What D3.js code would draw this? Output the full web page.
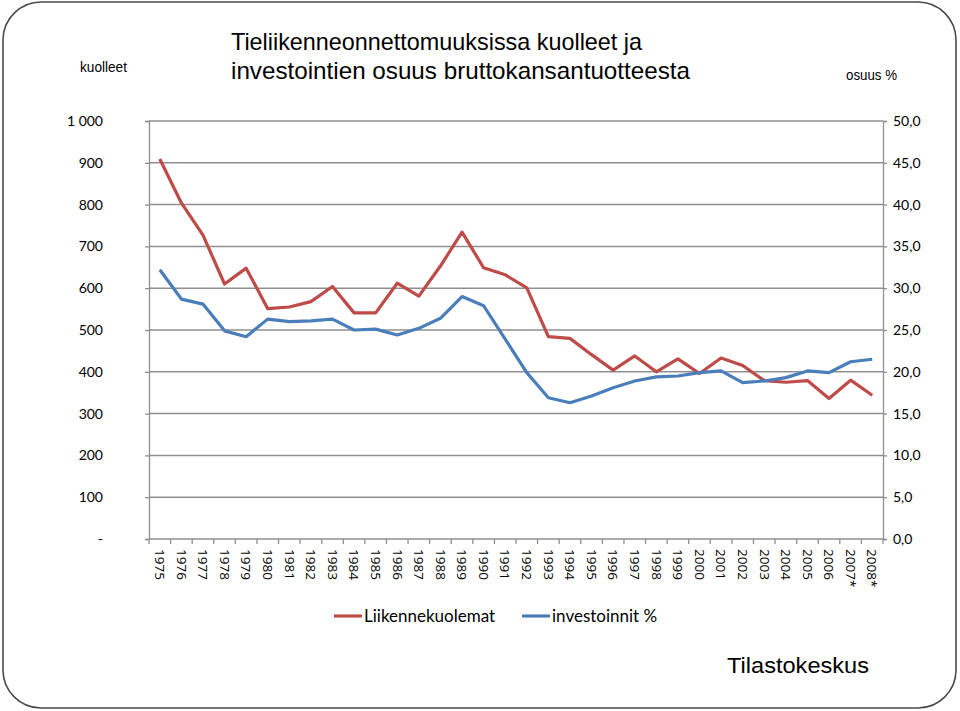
<!DOCTYPE html>
<html><head><meta charset="utf-8">
<script src="https://cdn.jsdelivr.net/npm/d3@7"></script>
<style>body{margin:0;background:#fff}svg{display:block}</style>
</head><body>
<script>
const years = ["1975","1976","1977","1978","1979","1980","1981","1982","1983","1984","1985","1986","1987","1988","1989","1990","1991","1992","1993","1994","1995","1996","1997","1998","1999","2000","2001","2002","2003","2004","2005","2006","2007*","2008*"];
const deaths = [909,804,727,610,648,551,555,568,604,541,541,612,581,653,734,649,632,601,484,480,441,404,438,400,431,396,433,415,379,375,379,336,380,344];
const invest = [32.2,28.7,28.1,24.9,24.2,26.3,26.0,26.1,26.3,25.0,25.1,24.4,25.2,26.4,29.0,27.9,23.9,19.9,16.9,16.3,17.1,18.1,18.9,19.4,19.5,19.9,20.1,18.7,18.9,19.3,20.1,19.9,21.2,21.5];
const leftTicks = [0,100,200,300,400,500,600,700,800,900,1000];
const leftTickLabels = ["-","100","200","300","400","500","600","700","800","900","1 000"];
const rightTicks = [0,5,10,15,20,25,30,35,40,45,50];
const rightTickLabels = ["0,0","5,0","10,0","15,0","20,0","25,0","30,0","35,0","40,0","45,0","50,0"];
const seriesNames = ["Liikennekuolemat","investoinnit %"];

const W=960,H=711;
const svg=d3.select("body").append("svg").attr("width",W).attr("height",H);
svg.append("rect").attr("x",3).attr("y",2).attr("width",953).attr("height",706).attr("rx",38).attr("ry",38)
  .attr("fill","#fff").attr("stroke","#4a4a4a").attr("stroke-width",1.6);

const L=149,R=883,T=121,B=539;
const x=d3.scaleBand().domain(years).range([L,R]);
const yL=d3.scaleLinear().domain([0,1000]).range([B,T]);
const yR=d3.scaleLinear().domain([0,50]).range([B,T]);
const grid="#8f8f8f";

// gridlines
svg.append("g").selectAll("line").data(leftTicks.filter(d=>d>0)).join("line")
  .attr("x1",L).attr("x2",R).attr("y1",d=>yL(d)).attr("y2",d=>yL(d))
  .attr("stroke",grid).attr("stroke-width",1.5);

// left axis
const gL=svg.append("g").attr("transform",`translate(${L},0)`)
  .call(d3.axisLeft(yL).tickValues(leftTicks).tickFormat((d,i)=>leftTickLabels[i]).tickSize(4).tickPadding(42));
gL.selectAll("path,line").attr("stroke",grid).attr("stroke-width",1.3);
gL.selectAll("text").attr("font-family","Lato, 'Open Sans', sans-serif").attr("font-size",14).attr("fill","#000");

// right axis
const gR=svg.append("g").attr("transform",`translate(${R},0)`)
  .call(d3.axisRight(yR).tickValues(rightTicks).tickFormat((d,i)=>rightTickLabels[i]).tickSize(4).tickPadding(6));
gR.selectAll("path,line").attr("stroke",grid).attr("stroke-width",1.3);
gR.selectAll("text").attr("font-family","Lato, 'Open Sans', sans-serif").attr("font-size",14).attr("fill","#000");

// bottom axis
svg.append("line").attr("x1",L).attr("x2",R).attr("y1",B).attr("y2",B).attr("stroke",grid).attr("stroke-width",1.3);
svg.append("g").selectAll("line").data(years.concat(["end"])).join("line")
  .attr("x1",(d,i)=>L+i*x.bandwidth()).attr("x2",(d,i)=>L+i*x.bandwidth())
  .attr("y1",B).attr("y2",B+5).attr("stroke",grid).attr("stroke-width",1.3);
svg.append("g").selectAll("text").data(years).join("text")
  .attr("transform",d=>`translate(${x(d)+x.bandwidth()/2},549) rotate(90)`)
  .attr("dy","0.35em").attr("text-anchor","start")
  .attr("font-family","'Open Sans', sans-serif").attr("font-size",13.5).attr("fill","#000")
  .text(d=>d);

// lines
const cx=d=>x(d)+x.bandwidth()/2;
svg.append("path").datum(years.map((y,i)=>[cx(y),yL(deaths[i])]))
  .attr("d",d3.line()).attr("fill","none").attr("stroke","#BE4B48").attr("stroke-width",3.2).attr("stroke-linejoin","round");
svg.append("path").datum(years.map((y,i)=>[cx(y),yR(invest[i])]))
  .attr("d",d3.line()).attr("fill","none").attr("stroke","#4A7EBB").attr("stroke-width",3.2).attr("stroke-linejoin","round");

// titles
svg.append("text").attr("x",231).attr("y",50).attr("font-family","'Liberation Sans', Arial, sans-serif")
  .attr("font-size",24).attr("textLength",411).attr("lengthAdjust","spacingAndGlyphs").text("Tieliikenneonnettomuuksissa kuolleet ja");
svg.append("text").attr("x",231).attr("y",79).attr("font-family","'Liberation Sans', Arial, sans-serif")
  .attr("font-size",24).attr("textLength",459).attr("lengthAdjust","spacingAndGlyphs").text("investointien osuus bruttokansantuotteesta");
svg.append("text").attr("x",80).attr("y",72).attr("font-family","'Liberation Sans', Arial, sans-serif")
  .attr("font-size",14).attr("textLength",47).attr("lengthAdjust","spacingAndGlyphs").text("kuolleet");
svg.append("text").attr("x",846).attr("y",80).attr("font-family","'Liberation Sans', Arial, sans-serif")
  .attr("font-size",14).attr("textLength",51).attr("lengthAdjust","spacingAndGlyphs").text("osuus %");

// legend
const leg=[{x:334,c:"#BE4B48"},{x:522,c:"#4A7EBB"}];
leg.forEach((l,i)=>{
  svg.append("line").attr("x1",l.x).attr("x2",l.x+28).attr("y1",616).attr("y2",616).attr("stroke",l.c).attr("stroke-width",3.2);
  svg.append("text").attr("x",l.x+30).attr("y",622).attr("font-family","Lato, 'Open Sans', sans-serif").attr("font-size",17).text(seriesNames[i]);
});

svg.append("text").attr("x",727).attr("y",673).attr("font-family","'Liberation Sans', Arial, sans-serif")
  .attr("font-size",22).attr("textLength",142).attr("lengthAdjust","spacingAndGlyphs").text("Tilastokeskus");
</script>
</body></html>
